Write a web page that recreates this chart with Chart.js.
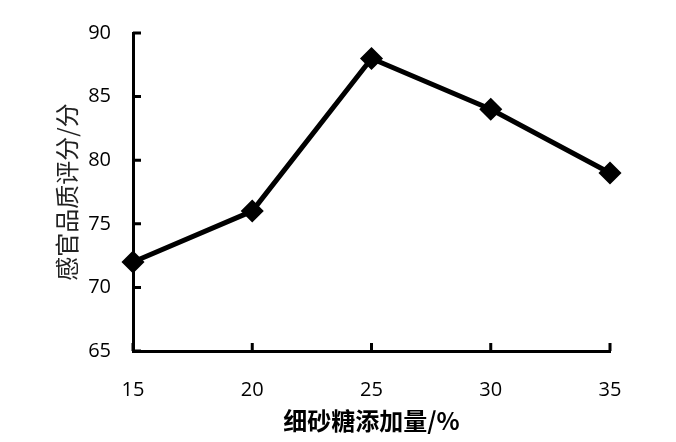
<!DOCTYPE html>
<html>
<head>
<meta charset="utf-8">
<script src="https://cdn.jsdelivr.net/npm/chart.js@4.4.0/dist/chart.umd.min.js"></script>
<style>
  html, body { margin: 0; padding: 0; background: #fff; }
  #wrap { width: 676px; height: 442px; }
</style>
</head>
<body>
<div id="wrap"><canvas id="sensoryChart" width="676" height="442"></canvas></div>
<script>
const sugarLevels = ["15", "20", "25", "30", "35"];
const sensoryScores = [72, 76, 88, 84, 79];
const yTicks = [65, 70, 75, 80, 85, 90];

// inward tick marks on both axes
const innerTicks = {
  id: "innerTicks",
  afterDraw(chart) {
    const ctx = chart.ctx;
    const x = chart.scales.x, y = chart.scales.y;
    ctx.save();
    ctx.strokeStyle = "#000";
    ctx.lineWidth = 3;
    ctx.beginPath();
    yTicks.forEach(function (v) {
      const py = y.getPixelForValue(v);
      ctx.moveTo(x.left, py);
      ctx.lineTo(x.left + 8, py);
    });
    sugarLevels.forEach(function (c, i) {
      const px = x.getPixelForValue(i);
      ctx.moveTo(px, y.bottom);
      ctx.lineTo(px, y.bottom - 8);
    });
    ctx.stroke();
    ctx.restore();
  },
};

const ctx = document.getElementById("sensoryChart").getContext("2d");
new Chart(ctx, {
  type: "line",
  data: {
    labels: sugarLevels,
    datasets: [
      {
        data: sensoryScores,
        borderColor: "#000",
        backgroundColor: "#000",
        borderWidth: 5,
        pointStyle: "rectRot",
        pointRadius: 8,
        pointBackgroundColor: "#000",
        pointBorderColor: "#000",
        tension: 0,
      },
    ],
  },
  options: {
    responsive: false,
    animation: false,
    layout: { padding: { top: 33, right: 66, bottom: 0, left: 0 } },
    plugins: { legend: { display: false }, tooltip: { enabled: false } },
    scales: {
      x: {
        offset: false,
        grid: { display: false },
        border: { display: true, color: "#000", width: 3 },
        ticks: {
          color: "#000",
          padding: 19,
          maxRotation: 0,
          font: { family: "Open Sans", size: 20 },
        },
        title: {
          display: true,
          text: "细砂糖添加量/%",
          color: "#000",
          padding: { top: 0, bottom: 7 },
          font: { family: "Noto Sans CJK SC", size: 24, weight: "bold" },
        },
        afterFit(scale) { scale.height = 91; },
      },
      y: {
        min: 65,
        max: 90,
        grid: { display: false },
        border: { display: true, color: "#000", width: 3 },
        ticks: {
          stepSize: 5,
          color: "#000",
          padding: 14,
          font: { family: "Open Sans", size: 20 },
        },
        title: {
          display: true,
          text: "感官品质评分/分",
          color: "#222",
          padding: { top: 52, bottom: 0 },
          font: { family: "Noto Sans CJK SC", size: 24 },
        },
        afterFit(scale) { scale.width = 133; },
      },
    },
  },
  plugins: [innerTicks],
});
</script>
</body>
</html>
